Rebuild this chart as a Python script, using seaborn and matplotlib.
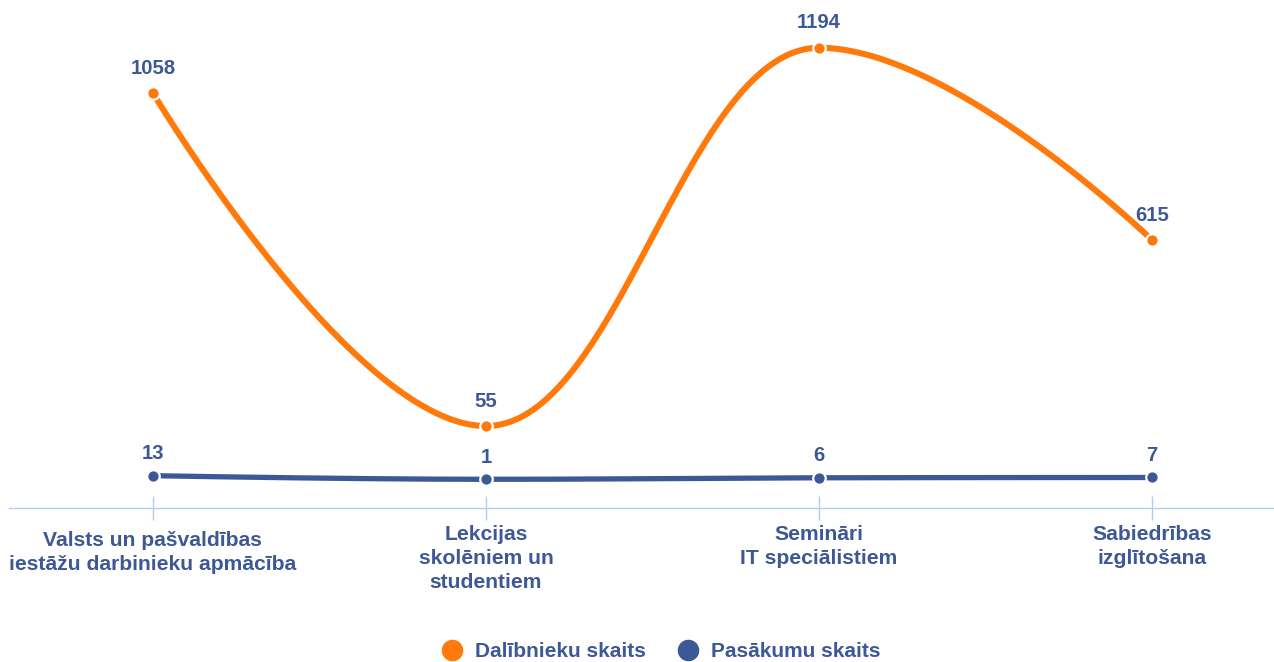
import matplotlib
matplotlib.use("Agg")
import matplotlib.pyplot as plt
from matplotlib.lines import Line2D
from matplotlib.transforms import ScaledTranslation
import numpy as np
import pandas as pd
import seaborn as sns

# Data
categories = [
    "Valsts un pašvaldības\niestāžu darbinieku apmācība",
    "Lekcijas\nskolēniem un\nstudentiem",
    "Semināri\nIT speciālistiem",
    "Sabiedrības\nizglītošana",
]
participants = [1058, 55, 1194, 615]   # Dalībnieku skaits
events = [13, 1, 6, 7]                 # Pasākumu skaits
series_names = ["Dalībnieku skaits", "Pasākumu skaits"]

ORANGE = "#FF7A0A"
BLUE = "#3D5896"
AXIS_BLUE = "#B3CDF2"
FONT = ["Liberation Sans", "DejaVu Sans"]


def spline(xs, ys, n=80, smoothing=1.5):
    """Smooth curve through the points using cubic Bezier segments
    with clamped control points (no overshoot at extrema)."""
    denom = smoothing + 1
    N = len(xs)
    lc = [None] * N
    rc = [None] * N
    for i in range(1, N - 1):
        px, py = xs[i], ys[i]
        lx, ly = xs[i - 1], ys[i - 1]
        nx, ny = xs[i + 1], ys[i + 1]
        lcx = (smoothing * px + lx) / denom
        lcy = (smoothing * py + ly) / denom
        rcx = (smoothing * px + nx) / denom
        rcy = (smoothing * py + ny) / denom
        if rcx != lcx:
            corr = ((rcy - lcy) * (rcx - px)) / (rcx - lcx) + py - rcy
            lcy += corr
            rcy += corr
        if lcy > ly and lcy > py:
            lcy = max(ly, py); rcy = 2 * py - lcy
        elif lcy < ly and lcy < py:
            lcy = min(ly, py); rcy = 2 * py - lcy
        if rcy > ny and rcy > py:
            rcy = max(ny, py); lcy = 2 * py - rcy
        elif rcy < ny and rcy < py:
            rcy = min(ny, py); lcy = 2 * py - rcy
        lc[i] = (lcx, lcy)
        rc[i] = (rcx, rcy)
    t = np.linspace(0, 1, n)
    out_x, out_y = [], []
    for i in range(1, N):
        p0 = np.array([xs[i - 1], ys[i - 1]], float)
        p3 = np.array([xs[i], ys[i]], float)
        c1 = np.array(rc[i - 1]) if rc[i - 1] is not None else p0
        c2 = np.array(lc[i]) if lc[i] is not None else p3
        pts = ((1 - t)[:, None] ** 3 * p0 + 3 * ((1 - t) ** 2 * t)[:, None] * c1
               + 3 * ((1 - t) * t ** 2)[:, None] * c2 + (t ** 3)[:, None] * p3)
        out_x.extend(pts[:, 0]); out_y.extend(pts[:, 1])
    return pd.DataFrame({"x": out_x, "y": out_y})


sns.set_theme(style="white")
plt.rcParams["font.family"] = FONT

fig = plt.figure(figsize=(12.74, 6.62), dpi=100)
ax = fig.add_axes([9 / 1274, 154 / 662, 1 - 9 / 1274, 508 / 662])
ax2 = ax.twinx()

xs = np.arange(len(categories))

# Participants (orange) on the primary axis
curve = spline(xs, participants)
sns.lineplot(data=curve, x="x", y="y", ax=ax, color=ORANGE, lw=4.4,
             sort=False, estimator=None, zorder=3)
ax.plot(xs, participants, "o", color=ORANGE, ms=9, mec="white", mew=1.6,
        zorder=4, clip_on=False)

# Events (blue) on the secondary axis
curve2 = spline(xs, events)
sns.lineplot(data=curve2, x="x", y="y", ax=ax2, color=BLUE, lw=3.8,
             sort=False, estimator=None, zorder=3)
ax2.plot(xs, events, "o", color=BLUE, ms=9, mec="white", mew=1.6,
         zorder=4, clip_on=False)

ax.set_xlim(-0.432, 3.366)
ax.set_ylim(-191.8, 1337.9)
ax2.set_ylim(-94.7, 1598.7)

label_kw = dict(textcoords="offset points", ha="center", va="baseline",
                fontsize=14.6, fontweight="bold", color=BLUE, annotation_clip=False)
for x, v in zip(xs, participants):
    ax.annotate(f"{v}", (x, v), xytext=(0, 14), **label_kw)
for x, v in zip(xs, events):
    ax2.annotate(f"{v}", (x, v), xytext=(0, 12), **label_kw)

# Axes styling
for a in (ax, ax2):
    for side in ("top", "left", "right"):
        a.spines[side].set_visible(False)
    a.set_yticks([])
    a.set_ylabel("")
    a.set_xlabel("")
    a.grid(False)
ax2.spines["bottom"].set_visible(False)
ax.spines["bottom"].set_color(AXIS_BLUE)
ax.spines["bottom"].set_linewidth(1.0)
ax.patch.set_alpha(0)

ax.set_xticks(xs)
ax.set_xticklabels(categories, fontsize=15.2, fontweight="bold", color=BLUE,
                   linespacing=1.32, multialignment="center")
ax.tick_params(axis="x", direction="inout", length=17, width=1.0,
               color=AXIS_BLUE, pad=4, bottom=True)
# the wide first label sits a little lower
first = ax.get_xticklabels()[0]
first.set_transform(first.get_transform() + ScaledTranslation(0, -6 / 72 * 0.72, fig.dpi_scale_trans))

handles = [Line2D([], [], marker="o", ls="", ms=14.5, color=ORANGE),
           Line2D([], [], marker="o", ls="", ms=14.5, color=BLUE)]
leg = fig.legend(handles, series_names, loc="center", bbox_to_anchor=(0.519, 0.016),
                 ncol=2, frameon=False, handlelength=1.0, handletextpad=0.6,
                 columnspacing=1.5, prop=dict(family=FONT, weight="bold", size=15))
for t in leg.get_texts():
    t.set_color(BLUE)

fig.savefig("out.png", dpi=100)
